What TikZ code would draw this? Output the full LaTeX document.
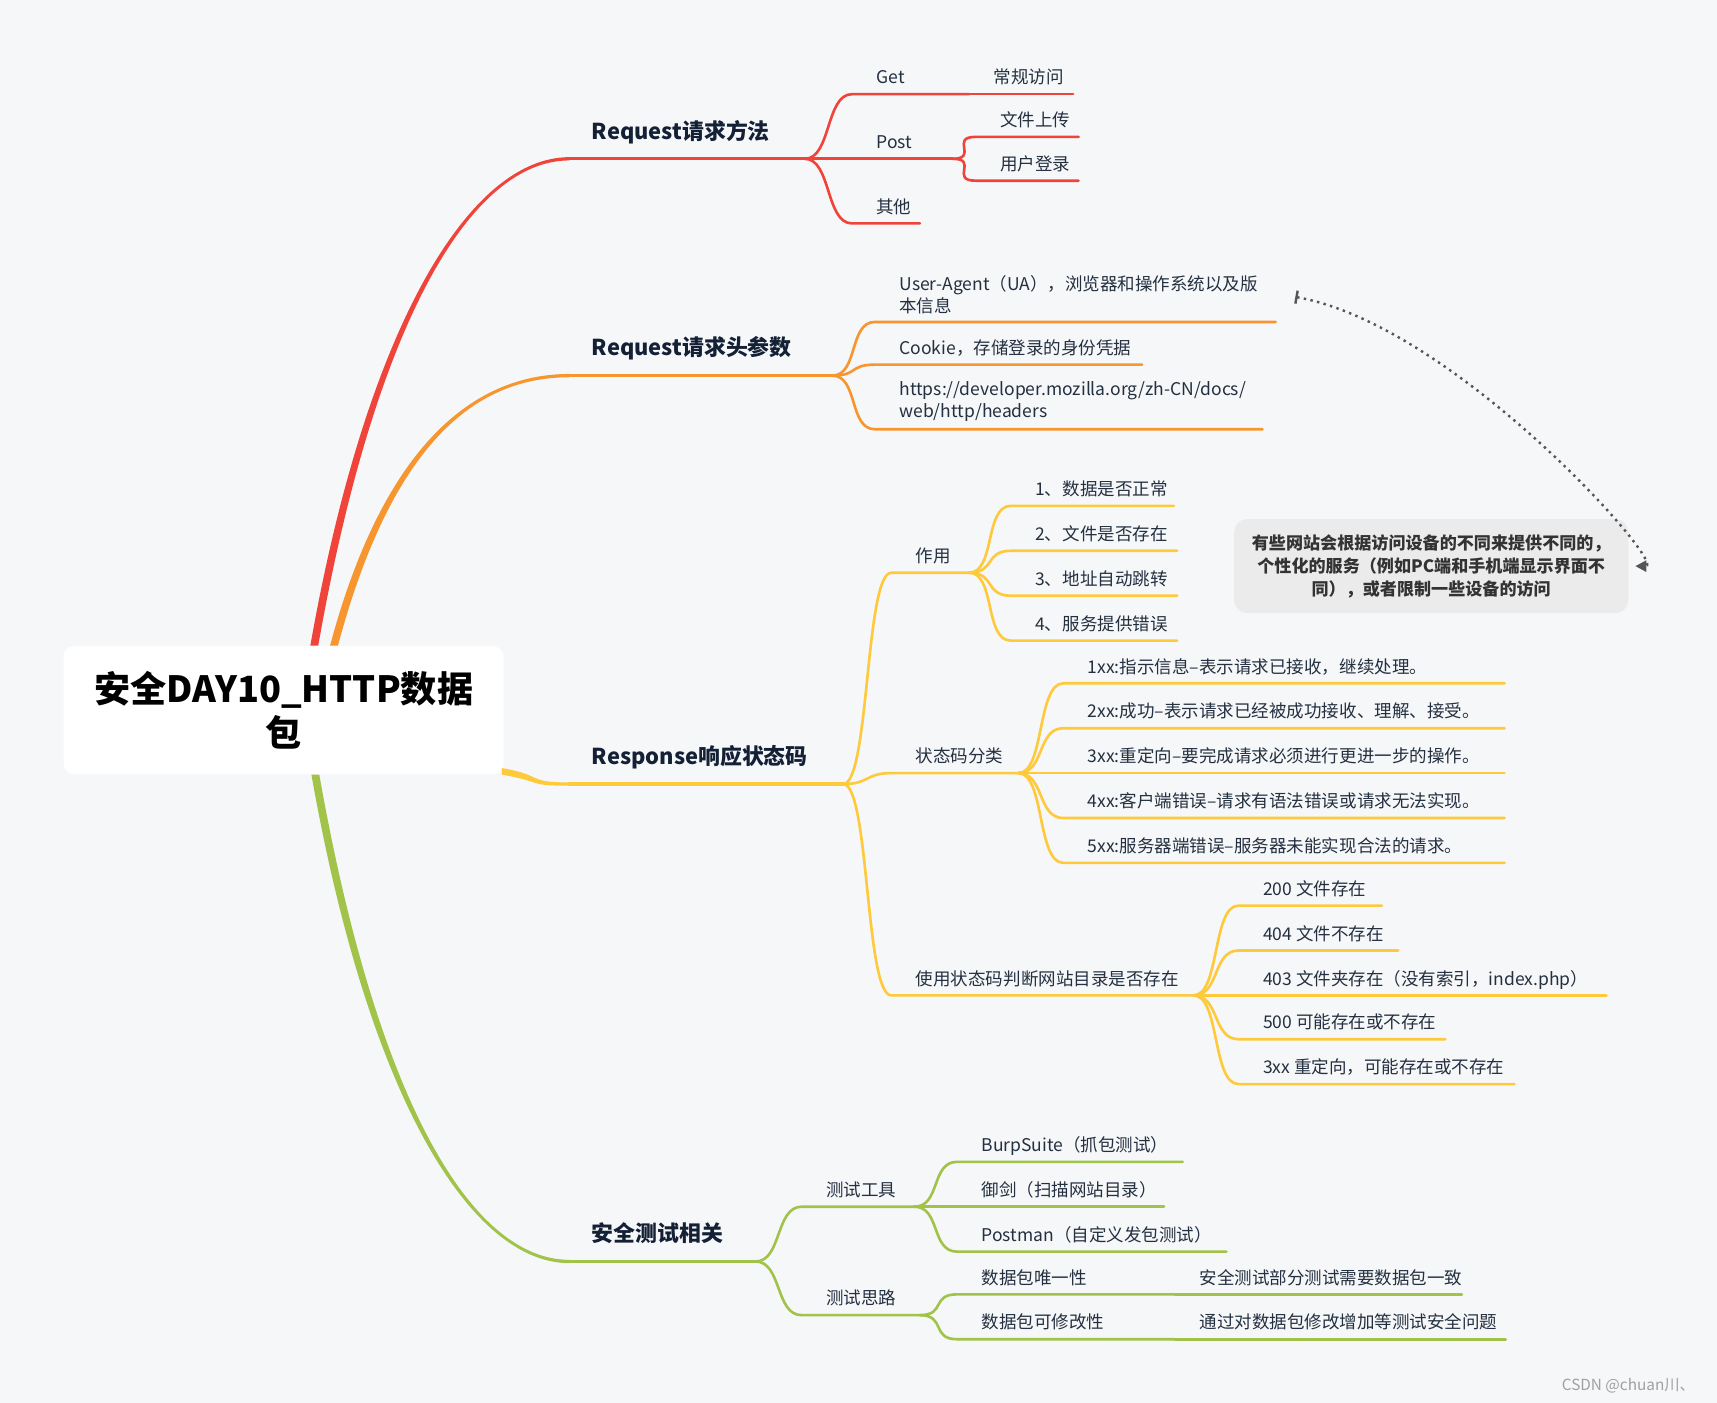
\documentclass[tikz,border=0pt]{standalone}
\usepackage{fontspec}
\setmainfont{Noto Sans CJK SC}
\usetikzlibrary{arrows.meta}

\begin{document}
\begin{tikzpicture}[x=0.5pt,y=0.5pt,
  hub/.style={fill=white,rounded corners=5pt,minimum width=201pt,minimum height=58.5pt,
    align=center,font=\fontsize{16.5}{20}\selectfont\bfseries,text=black},
  topic/.style={anchor=south west,inner xsep=10pt,inner ysep=6.8pt,text depth=2pt,
    font=\fontsize{10}{12}\selectfont\bfseries,text=inkbold},
  leafbase/.style={anchor=south west,inner xsep=11pt,font=\fontsize{8}{10}\selectfont,text=ink},
  leaf/.style={leafbase,inner ysep=2.5pt,text depth=2pt},
  leaftwo/.style={leafbase,inner ysep=3.5pt,align=left},
  remark/.style={fill=notefill,rounded corners=6pt,minimum width=180pt,minimum height=43pt,
    align=center,font=\fontsize{7.8}{10.5}\selectfont\bfseries,text=notetext},
  bough/.style={draw=#1,line width=1.5pt,line cap=round},
  twig/.style={draw=#1,line width=1.2pt,line cap=round,line join=round,
    out=0,in=180,out distance=12pt,in distance=12pt},
  link/.style={draw=linkgray,line width=1.1pt,dotted,shorten <=6pt,shorten >=3pt,
    {Bar[width=6pt]}-{Triangle[width=5pt,length=5pt]}}]
  \definecolor{paper}{HTML}{F6F7F9}
  \definecolor{cred}{HTML}{F0443B}
  \definecolor{corange}{HTML}{F7962E}
  \definecolor{cyellow}{HTML}{FFC93C}
  \definecolor{cgreen}{HTML}{A1C34A}
  \definecolor{ink}{HTML}{243040}
  \definecolor{inkbold}{HTML}{142036}
  \definecolor{notefill}{HTML}{EBEBEB}
  \definecolor{notetext}{HTML}{333333}
  \definecolor{linkgray}{HTML}{555555}
  \definecolor{markgray}{HTML}{A0A0A0}
  \useasboundingbox (0,0) rectangle (1568,-1281);
  \fill[paper] (0,0) rectangle (1568,-1281);

  \node[hub] (root) at (259,-648.5) {安全DAY10\_HTTP数据\\包};
  \node[topic] (req) at (520,-145) {Request请求方法};
  \node[topic] (hdr) at (520,-343) {Request请求头参数};
  \node[topic] (resp) at (520,-716) {Response响应状态码};
  \node[topic] (sec) at (520,-1152) {安全测试相关};

  \fill[cred] ([xshift=12.2pt]root.north) to[out=80,in=180,out distance=150pt,in distance=45pt] ([yshift=.75pt]req.south west)
    -- ([yshift=-.75pt]req.south west) to[out=180,in=80,out distance=45pt,in distance=150pt] ([xshift=15.8pt]root.north) -- cycle;
  \fill[corange] ([xshift=21.2pt]root.north) to[out=75,in=180,out distance=100pt,in distance=40pt] ([yshift=.75pt]hdr.south west)
    -- ([yshift=-.75pt]hdr.south west) to[out=180,in=75,out distance=40pt,in distance=100pt] ([xshift=24.8pt]root.north) -- cycle;
  \fill[cyellow] ([xshift=-1pt,yshift=3pt]root.south east) to[out=-10,in=180,out distance=20pt,in distance=20pt] ([yshift=.75pt]resp.south west)
    -- ([yshift=-.75pt]resp.south west) to[out=180,in=-10,out distance=20pt,in distance=20pt] ([xshift=-1pt]root.south east) -- cycle;
  \fill[cgreen] ([xshift=12.7pt]root.south) to[out=-80,in=180,out distance=150pt,in distance=45pt] ([yshift=-.75pt]sec.south west)
    -- ([yshift=.75pt]sec.south west) to[out=180,in=-80,out distance=45pt,in distance=150pt] ([xshift=16.3pt]root.south) -- cycle;

  \node[leaf] (get) at (778,-86) {Get};
  \node[leaf] (getuse) at (885,-86) {常规访问};
  \node[leaf] (post) at (778,-145) {Post};
  \node[leaf] (upload) at (891,-125) {文件上传};
  \node[leaf] (login) at (891,-165) {用户登录};
  \node[leaf] (other) at (778,-204) {其他};
  \draw[bough=cred] (req.south west) -- ++(215,0) coordinate (req-e);
  \draw[twig=cred] (req-e) to (get.south west) -- ++(107,0) coordinate (get-e);
  \draw[twig=cred] (get-e) -- (getuse.south west) -- ++(95,0);
  \draw[twig=cred] (req-e) to (post.south west) -- ++(92,0) coordinate (post-e);
  \draw[twig=cred] (post-e) to (upload.south west) -- ++(94,0);
  \draw[twig=cred] (post-e) to (login.south west) -- ++(94,0);
  \draw[twig=cred] (req-e) to (other.south west) -- ++(62,0);

  \node[leaftwo] (ua) at (799,-294) {User-Agent（UA），浏览器和操作系统以及版\\本信息};
  \node[leaf] (cookie) at (799,-333) {Cookie，存储登录的身份凭据};
  \node[leaftwo] (mdn) at (799,-392) {https://developer.mozilla.org/zh-CN/docs/\\web/http/headers};
  \draw[bough=corange] (hdr.south west) -- ++(240,0) coordinate (hdr-e);
  \draw[twig=corange] (hdr-e) to (ua.south west) -- ++(366,0);
  \draw[twig=corange] (hdr-e) to (cookie.south west) -- ++(244,0);
  \draw[twig=corange] (hdr-e) to (mdn.south west) -- ++(354,0);

  \node[leaf] (role) at (814,-523) {作用};
  \node[leaf] (role1) at (923,-462) {1、数据是否正常};
  \node[leaf] (role2) at (923,-503) {2、文件是否存在};
  \node[leaf] (role3) at (923,-544) {3、地址自动跳转};
  \node[leaf] (role4) at (923,-585) {4、服务提供错误};
  \node[leaf] (kinds) at (814,-706) {状态码分类};
  \node[leaf] (kind1) at (971,-624) {1xx:指示信息–表示请求已接收，继续处理。};
  \node[leaf] (kind2) at (971,-665) {2xx:成功–表示请求已经被成功接收、理解、接受。};
  \node[leaf] (kind3) at (971,-706) {3xx:重定向–要完成请求必须进行更进一步的操作。};
  \node[leaf] (kind4) at (971,-747) {4xx:客户端错误–请求有语法错误或请求无法实现。};
  \node[leaf] (kind5) at (971,-788) {5xx:服务器端错误–服务器未能实现合法的请求。};
  \node[leaf] (probe) at (814,-909) {使用状态码判断网站目录是否存在};
  \node[leaf] (probe1) at (1131,-827) {200 文件存在};
  \node[leaf] (probe2) at (1131,-868) {404 文件不存在};
  \node[leaf] (probe3) at (1131,-909) {403 文件夹存在（没有索引，index.php）};
  \node[leaf] (probe4) at (1131,-949) {500 可能存在或不存在};
  \node[leaf] (probe5) at (1131,-990) {3xx 重定向，可能存在或不存在};
  \draw[bough=cyellow] (resp.south west) -- ++(250,0) coordinate (resp-e);
  \draw[twig=cyellow] (resp-e) to (role.south west) -- ++(71,0) coordinate (role-e);
  \draw[twig=cyellow] (role-e) to (role1.south west) -- ++(149,0);
  \draw[twig=cyellow] (role-e) to (role2.south west) -- ++(152,0);
  \draw[twig=cyellow] (role-e) to (role3.south west) -- ++(152,0);
  \draw[twig=cyellow] (role-e) to (role4.south west) -- ++(152,0);
  \draw[twig=cyellow] (resp-e) to (kinds.south west) -- ++(116,0) coordinate (kinds-e);
  \draw[twig=cyellow] (kinds-e) to (kind1.south west) -- ++(403,0);
  \draw[twig=cyellow] (kinds-e) to (kind2.south west) -- ++(403,0);
  \draw[twig=cyellow] (kinds-e) to (kind3.south west) -- ++(403,0);
  \draw[twig=cyellow] (kinds-e) to (kind4.south west) -- ++(403,0);
  \draw[twig=cyellow] (kinds-e) to (kind5.south west) -- ++(403,0);
  \draw[twig=cyellow] (resp-e) to (probe.south west) -- ++(276,0) coordinate (probe-e);
  \draw[twig=cyellow] (probe-e) to (probe1.south west) -- ++(131,0);
  \draw[twig=cyellow] (probe-e) to (probe2.south west) -- ++(146,0);
  \draw[twig=cyellow] (probe-e) to (probe3.south west) -- ++(336,0);
  \draw[twig=cyellow] (probe-e) to (probe4.south west) -- ++(189,0);
  \draw[twig=cyellow] (probe-e) to (probe5.south west) -- ++(252,0);

  \node[leaf] (tools) at (732,-1102) {测试工具};
  \node[leaf] (burp) at (874,-1061) {BurpSuite（抓包测试）};
  \node[leaf] (yujian) at (874,-1102) {御剑（扫描网站目录）};
  \node[leaf] (postman) at (874,-1143) {Postman（自定义发包测试）};
  \node[leaf] (ideas) at (732,-1201) {测试思路};
  \node[leaf] (uniq) at (874,-1182) {数据包唯一性};
  \node[leaf] (uniqwhy) at (1073,-1182) {安全测试部分测试需要数据包一致};
  \node[leaf] (mod) at (874,-1223) {数据包可修改性};
  \node[leaf] (modwhy) at (1073,-1223) {通过对数据包修改增加等测试安全问题};
  \draw[bough=cgreen] (sec.south west) -- ++(170,0) coordinate (sec-e);
  \draw[twig=cgreen] (sec-e) to (tools.south west) -- ++(103,0) coordinate (tools-e);
  \draw[twig=cgreen] (tools-e) to (burp.south west) -- ++(206,0);
  \draw[twig=cgreen] (tools-e) to (yujian.south west) -- ++(189,0);
  \draw[twig=cgreen] (tools-e) to (postman.south west) -- ++(246,0);
  \draw[twig=cgreen] (sec-e) to (ideas.south west) -- ++(108,0) coordinate (ideas-e);
  \draw[twig=cgreen] (ideas-e) to (uniq.south west) -- ++(199,0) coordinate (uniq-e);
  \draw[twig=cgreen] (uniq-e) -- (uniqwhy.south west) -- ++(262,0);
  \draw[twig=cgreen] (ideas-e) to (mod.south west) -- ++(199,0) coordinate (mod-e);
  \draw[twig=cgreen] (mod-e) -- (modwhy.south west) -- ++(302,0);

  \node[remark] (note) at (1307,-517) {有些网站会根据访问设备的不同来提供不同的，\\个性化的服务（例如PC端和手机端显示界面不\\同），或者限制一些设备的访问};
  \draw[link] (ua.east) to[out=-10,in=0,out distance=80pt,in distance=18pt] (note.east);

  \node[anchor=base east,font=\fontsize{7}{8}\selectfont,text=markgray] (mark) at (1555,-1270) {CSDN @chuan川、};
\end{tikzpicture}
\end{document}
